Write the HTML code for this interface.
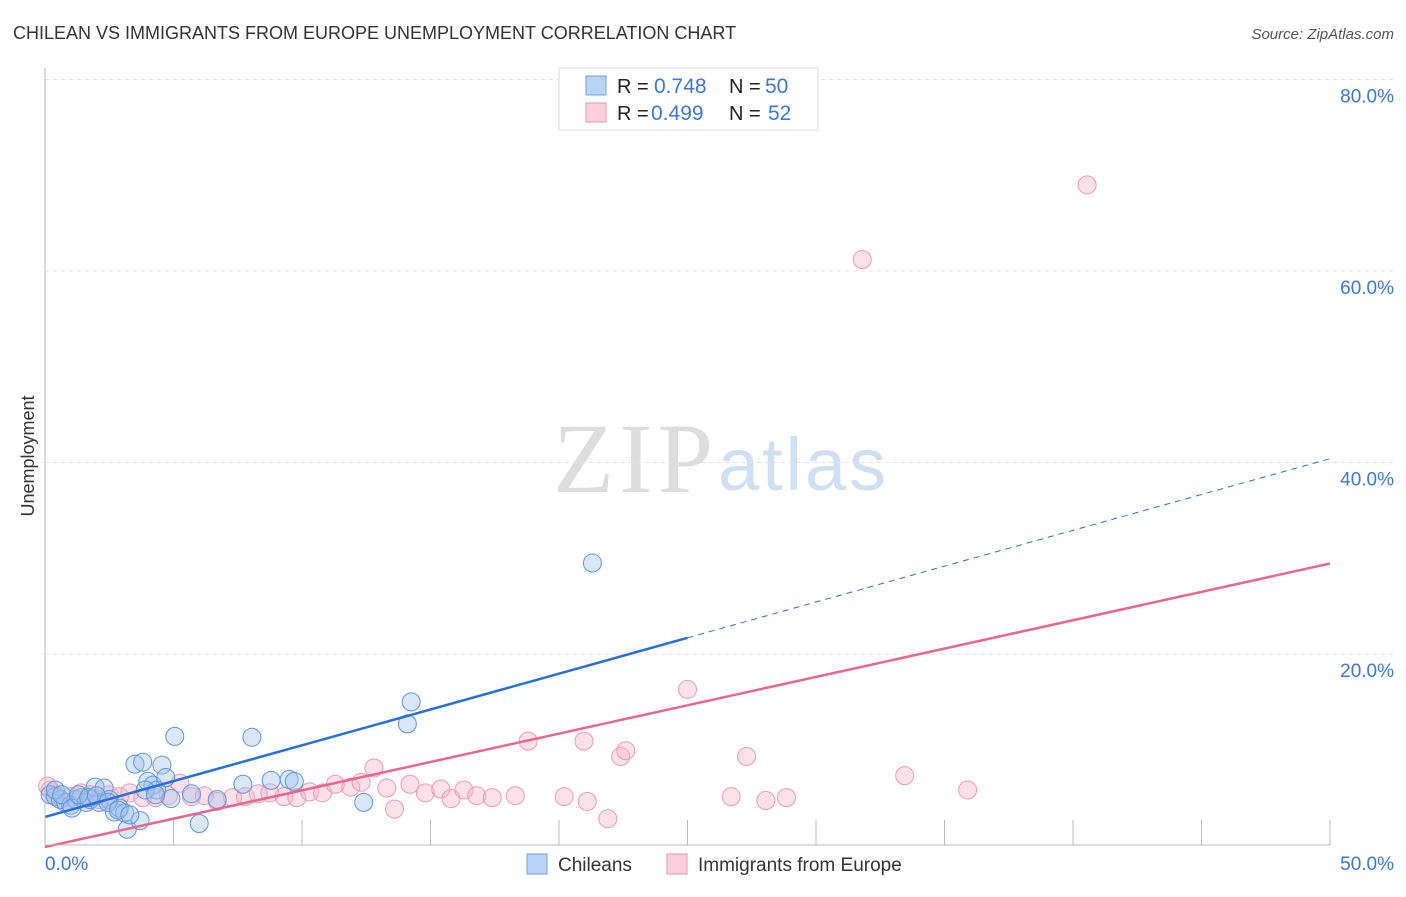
<!DOCTYPE html>
<html><head><meta charset="utf-8"><style>
body{margin:0;background:#fff;font-family:"Liberation Sans",sans-serif}
#c{position:relative;width:1406px;height:892px}
</style></head><body>
<div id="c">
<svg id="s" width="1406" height="892" xmlns="http://www.w3.org/2000/svg">
<text x="13" y="39" font-size="18" fill="#333">CHILEAN VS IMMIGRANTS FROM EUROPE UNEMPLOYMENT CORRELATION CHART</text>
<text x="1394" y="39" font-size="15" fill="#555" text-anchor="end" font-style="italic">Source: ZipAtlas.com</text>
<text x="553" y="492" font-size="100" fill="#ddd" textLength="160" font-family="Liberation Serif,serif">ZIP</text>
<text x="718" y="490" font-size="74" fill="#cfe0f5" textLength="168">atlas</text>
<text transform="translate(34,456) rotate(-90)" font-size="18" fill="#333" text-anchor="middle">Unemployment</text>
<g id="grid"></g><g id="pts"></g><g id="lines"></g>
<line x1="45" y1="68" x2="45" y2="845" stroke="#bbb"/>
<line x1="45" y1="845" x2="1330" y2="845" stroke="#bbb"/>
<text x="45" y="870" font-size="19" fill="#3b78d8">0.0%</text>
<text x="1394" y="870" font-size="19" fill="#3b78d8" text-anchor="end">50.0%</text>
<g>
<rect x="559" y="68" width="259" height="62" fill="#fff" stroke="#ddd"/>
<rect x="586" y="76" width="20" height="19" fill="#b8d3f5" stroke="#6f9fe0"/>
<rect x="586" y="103" width="20" height="19" fill="#fccfdb" stroke="#eb97b0"/>
<text x="617" y="93" font-size="20" fill="#222">R =</text>
<text x="654" y="93" font-size="21" fill="#3b78d8">0.748</text>
<text x="729" y="93" font-size="20" fill="#222">N =</text>
<text x="765" y="93" font-size="21" fill="#3b78d8">50</text>
<text x="617" y="120" font-size="20" fill="#222">R =</text>
<text x="651" y="120" font-size="21" fill="#3b78d8">0.499</text>
<text x="729" y="120" font-size="20" fill="#222">N =</text>
<text x="768" y="120" font-size="21" fill="#3b78d8">52</text>
</g>
<g>
<rect x="527" y="854" width="20" height="20" fill="#b8d3f5" stroke="#6f9fe0"/>
<text x="558" y="871" font-size="19" fill="#333">Chileans</text>
<rect x="667" y="854" width="20" height="20" fill="#fccfdb" stroke="#eb97b0"/>
<text x="698" y="871" font-size="19" fill="#333">Immigrants from Europe</text>
</g>
</svg>
</div>
<script>
const blueX=[0.2,0.4,0.6,0.8,1.0,1.2,1.4,1.6,1.75,1.95,2.1,2.3,2.5,2.7,2.9,3.1,3.2,3.5,3.7,3.8,4.0,4.2,4.35,4.55,4.7,4.9,5.05,5.7,6.0,6.7,7.7,8.05,8.8,9.5,9.7,12.4,14.1,14.25,21.3,0.4,0.65,1.05,1.3,1.7,2.0,2.45,2.85,3.3,3.9,4.3];
const blueY=[5.3,5.1,4.8,4.5,4.2,4.8,5.0,4.5,4.8,6.1,4.5,6.0,4.8,3.5,3.9,3.4,1.7,8.5,2.6,8.7,6.7,6.3,5.8,8.4,7.1,4.9,11.4,5.4,2.3,4.8,6.4,11.3,6.8,6.9,6.7,4.5,12.7,15.0,29.5,5.8,5.3,3.9,5.3,5.0,5.2,4.5,3.7,3.2,5.8,5.3];
const pinkX=[0.2,0.4,0.6,1.0,1.4,1.75,2.1,2.5,2.9,3.3,3.8,4.3,4.8,5.25,5.7,6.2,6.7,7.3,7.8,8.3,8.75,9.3,9.8,10.3,10.8,11.3,11.9,12.3,12.8,13.3,13.6,14.2,14.8,15.4,15.8,16.3,16.8,17.4,18.3,18.8,20.2,20.97,21.1,21.9,22.4,22.6,25.0,26.7,27.3,28.05,28.85,31.8,33.45,35.9,40.55,0.1];
const pinkY=[5.8,5.3,4.8,5.1,5.5,5.3,4.8,5.3,5.1,5.5,5.0,5.0,5.2,6.5,5.1,5.2,4.6,5.0,5.1,5.4,5.5,5.1,5.0,5.6,5.5,6.4,6.1,6.6,8.1,6.0,3.8,6.4,5.5,5.9,4.9,5.8,5.2,5.0,5.2,10.9,5.1,10.9,4.6,2.8,9.3,9.9,16.3,5.1,9.3,4.7,5.0,61.2,7.3,5.8,69.0,6.2];
const yTicks=[20,40,60,80];
const xTicks=[0,5,10,15,20,25,30,35,40,45,50];
const blueTrend=[2.98,40.4];
const pinkTrend=[-0.16,29.45];
const blueSolidEnd=25;
const X=v=>45+v*25.7, Y=v=>845.5-v*9.575;
const NS='http://www.w3.org/2000/svg';
function mk(t,a,p){const e=document.createElementNS(NS,t);for(const k in a)e.setAttribute(k,a[k]);p.appendChild(e);return e;}
const grid=document.getElementById('grid'),pts=document.getElementById('pts'),lines=document.getElementById('lines'),s=document.getElementById('s');
yTicks.forEach(v=>{
 const l=mk('line',{x1:45,x2:1394,y1:Y(v),y2:Y(v),stroke:'#e3e3e3','stroke-dasharray':'4,4'},grid);
 
 
 const t=mk('text',{x:1394,y:Y(v)+23,'font-size':19,fill:'#3b78d8','text-anchor':'end'},s);
 t.textContent=v.toFixed(1)+'%';
 
 
});
xTicks.forEach(v=>{
 const l=mk('line',{x1:X(v),x2:X(v),y1:820,y2:845,stroke:'#bbb'},grid);
 
 
});
pinkX.forEach((x,i)=>{
 const c=mk('circle',{cx:X(x),cy:Y(pinkY[i]),r:9,fill:'rgba(248,180,200,0.4)',stroke:'#ec9ab3','stroke-width':1},pts);
 
 
});
blueX.forEach((x,i)=>{
 const c=mk('circle',{cx:X(x),cy:Y(blueY[i]),r:9,fill:'rgba(160,195,240,0.4)',stroke:'#5f95de','stroke-width':1},pts);
 
 
});
const by=x=>blueTrend[0]+(blueTrend[1]-blueTrend[0])*x/50;
let l1=mk('line',{x1:X(0),y1:Y(by(0)),x2:X(blueSolidEnd),y2:Y(by(blueSolidEnd)),stroke:'#2a6fd6','stroke-width':2.5},lines);


let l2=mk('line',{x1:X(blueSolidEnd),y1:Y(by(blueSolidEnd)),x2:X(50),y2:Y(by(50)),stroke:'#2a6fd6','stroke-width':1,'stroke-dasharray':'6,5'},lines);


let l3=mk('line',{x1:X(0),y1:Y(pinkTrend[0]),x2:X(50),y2:Y(pinkTrend[1]),stroke:'#e8678f','stroke-width':2.5},lines);


</script>
</body></html>
